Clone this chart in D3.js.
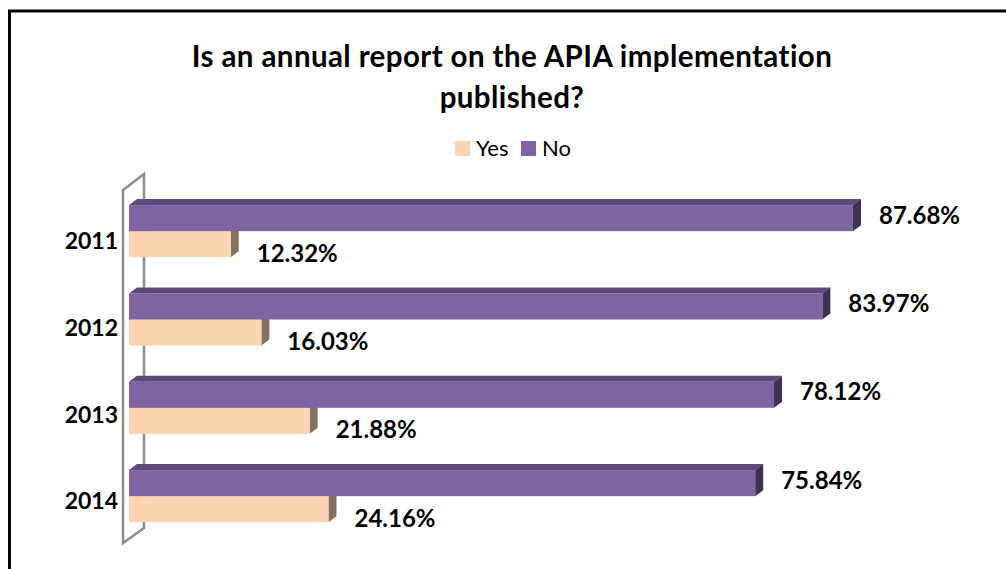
<!DOCTYPE html>
<html>
<head>
<meta charset="utf-8">
<script src="https://cdn.jsdelivr.net/npm/d3@7/dist/d3.min.js"></script>
<style>
  html, body { margin: 0; padding: 0; background: #fff; }
  svg { display: block; }
</style>
</head>
<body>
<svg id="chart" width="1006" height="569"></svg>
<script>
// Survey answers per year (percent)
const years = ["2011", "2012", "2013", "2014"];
const yesValues = [12.32, 16.03, 21.88, 24.16];
const noValues = [87.68, 83.97, 78.12, 75.84];
// drawing order: the lower bar first so the upper one overlaps its top face
const seriesNames = ["Yes", "No"];
const legendNames = ["Yes", "No"];
const titleLines = ["Is an annual report on the APIA implementation", "published?"];

const colors = {
  Yes: { front: "#FCD5B5", top: "#E3B994", side: "#86705B" },
  No:  { front: "#8064A2", top: "#5F497A", side: "#3F3151" }
};

const rows = years.map((y, i) => ({ year: y, Yes: yesValues[i], No: noValues[i] }));

const svg = d3.select("#chart");
const FONT = "Lato, 'Open Sans', sans-serif";

// frame of the chart area
svg.append("rect")
  .attr("x", 9.5).attr("y", 11).attr("width", 1010).attr("height", 600)
  .attr("fill", "none").attr("stroke", "#000").attr("stroke-width", 3);

// title
svg.append("g").selectAll("text").data(titleLines).join("text")
  .attr("x", 512).attr("y", (d, i) => 67 + i * 41)
  .attr("text-anchor", "middle")
  .attr("font-family", FONT).attr("font-weight", "bold").attr("font-size", 29.5)
  .attr("letter-spacing", 0.4)
  .attr("fill", "#000")
  .text(d => d);

// legend
const legend = svg.append("g");
const legendX = [455, 521];
legendNames.forEach((name, i) => {
  legend.append("rect")
    .attr("x", legendX[i]).attr("y", 141).attr("width", 15).attr("height", 15)
    .attr("fill", colors[name].front);
  legend.append("text")
    .attr("x", legendX[i] + 21).attr("y", 156)
    .attr("font-family", FONT).attr("font-size", 22).attr("fill", "#000")
    .text(name);
});

// scales
const depthX = 8, depthY = 6;
const x = d3.scaleLinear().domain([0, 100]).range([129, 954.7]);
const y = d3.scaleBand().domain(years).range([187, 540.3]).paddingInner(0.41).paddingOuter(0.205);
const ySub = d3.scaleBand().domain(["No", "Yes"]).range([0, y.bandwidth()]);

// 3D wall on the category axis
const wall = svg.append("g").attr("fill", "none").attr("stroke", "#8C8C8C").attr("stroke-width", 2.5)
  .attr("stroke-linejoin", "miter");
wall.append("path").attr("d", "M123,543 L123,190 L144,174 L144,528 Z");

// bars
const groups = svg.append("g").selectAll("g").data(rows).join("g")
  .attr("transform", d => `translate(0,${y(d.year)})`);

seriesNames.forEach(name => {
  const c = colors[name];
  const g = groups.append("g");
  const y0 = ySub(name), h = ySub.bandwidth();
  // top face
  g.append("path")
    .attr("fill", c.top)
    .attr("d", d => {
      const x0 = x(0), x1 = x(d[name]);
      return `M${x0},${y0} L${x0 + depthX},${y0 - depthY} L${x1 + depthX},${y0 - depthY} L${x1},${y0} Z`;
    });
  // side face
  g.append("path")
    .attr("fill", c.side)
    .attr("d", d => {
      const x1 = x(d[name]);
      return `M${x1},${y0} L${x1 + depthX},${y0 - depthY} L${x1 + depthX},${y0 + h - depthY} L${x1},${y0 + h} Z`;
    });
  // front face
  g.append("rect")
    .attr("x", x(0)).attr("y", y0)
    .attr("width", d => x(d[name]) - x(0)).attr("height", h)
    .attr("fill", c.front);
});

// value labels
const labelShift = { No: -3, Yes: 9 };
seriesNames.forEach(name => {
  groups.append("text")
    .attr("x", d => x(d[name]) + 26)
    .attr("y", ySub(name) + ySub.bandwidth() / 2 + labelShift[name])
    .attr("dy", "0.36em")
    .attr("font-family", FONT).attr("font-weight", "bold").attr("font-size", 24)
    .attr("fill", "#000")
    .text(d => d3.format(".2f")(d[name]) + "%");
});

// category axis labels
svg.append("g").selectAll("text").data(years).join("text")
  .attr("x", 118)
  .attr("y", d => y(d) + y.bandwidth() / 2 + 10 - years.indexOf(d) * 1.7)
  .attr("dy", "0.36em")
  .attr("text-anchor", "end")
  .attr("font-family", FONT).attr("font-weight", "bold").attr("font-size", 23)
  .attr("fill", "#000")
  .text(d => d);
</script>
</body>
</html>
